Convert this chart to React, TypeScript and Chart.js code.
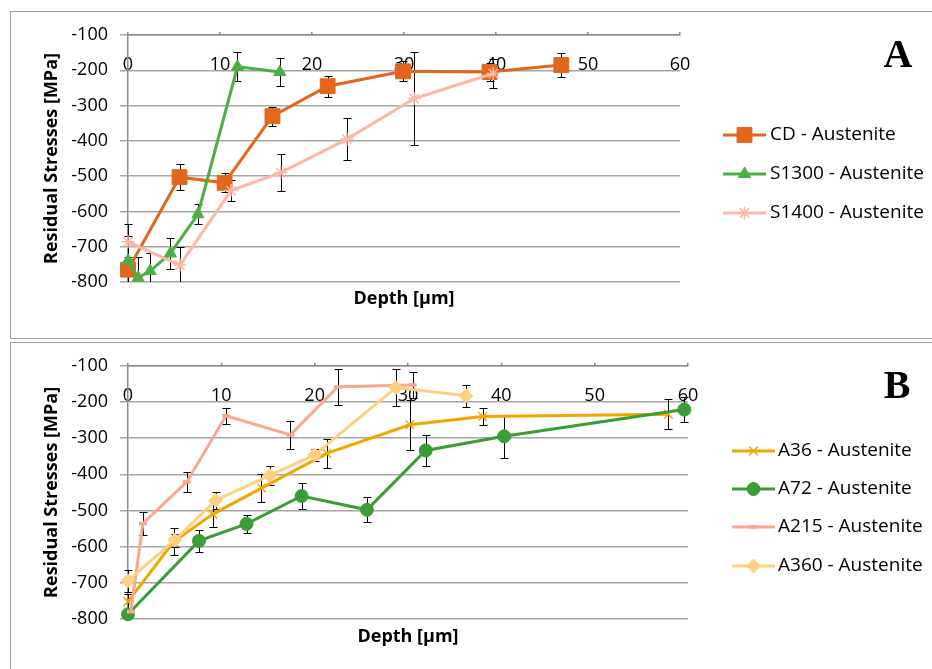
import React, { useEffect, useRef } from "react";
import { Chart, registerables, PointElement } from "chart.js";

Chart.register(...registerables);

const SANS = "'Open Sans', 'Liberation Sans', sans-serif";
const SERIF = "'Liberation Serif', 'DejaVu Serif', serif";

// ---- axis ticks ----
const depthTicks = [0, 10, 20, 30, 40, 50, 60];
const stressTicks = [-800, -700, -600, -500, -400, -300, -200, -100];

// ---- Panel A ----
const cdDepth = [0, 5.6, 10.5, 15.7, 21.7, 29.9, 39.3, 47.1];
const cdStress = [-765, -503, -519, -330, -245, -203, -205, -185];
const cdError = [35, 37, 27, 27, 30, 28, 25, 34];

const s1300Depth = [0, 1.1, 2.4, 4.6, 7.6, 11.9, 16.5];
const s1300Stress = [-740, -788, -769, -719, -608, -190, -205];
const s1300Error = [70, 58, 50, 45, 28, 41, 40];

const s1400Depth = [0, 5.65, 11.2, 16.6, 23.8, 31.1, 39.7];
const s1400Stress = [-686, -752, -541, -490, -395, -280, -209];
const s1400Error = [50, 52, 30, 52, 59, 133, 42];

// ---- Panel B ----
const a36Depth = [0, 4.9, 9.1, 14.3, 21.3, 30.2, 38.0, 57.9];
const a36Stress = [-752, -586, -510, -438, -342, -263, -240, -234];
const a36Error = [20, 38, 35, 38, 41, 69, 23, 42];

const a72Depth = [0, 7.6, 12.7, 18.6, 25.6, 31.9, 40.3, 59.6];
const a72Stress = [-787, -584, -537, -460, -498, -334, -295, -221];
const a72Error = [0, 30, 24, 37, 35, 42, 59, 35];

const a215Depth = [0.3, 1.6, 6.3, 10.5, 17.4, 22.5, 30.5];
const a215Stress = [-780, -536, -421, -238, -291, -158, -153];
const a215Error = [0, 33, 28, 22, 38, 50, 35];

const a360Depth = [0, 5.0, 9.4, 15.2, 20.0, 28.7, 36.2];
const a360Stress = [-694, -582, -472, -403, -346, -160, -183];
const a360Error = [30, 18, 24, 27, 16, 51, 31];

type Series = {
  label: string;
  depth: number[];
  stress: number[];
  error: number[];
  color: string;
  style: string;
  radius: number;
  pointWidth: number;
};

const seriesA: Series[] = [
  { label: "CD - Austenite", depth: cdDepth, stress: cdStress, error: cdError, color: "#E2661C", style: "rect", radius: 10.5, pointWidth: 1 },
  { label: "S1300 - Austenite", depth: s1300Depth, stress: s1300Stress, error: s1300Error, color: "#4CAF45", style: "triangle", radius: 7, pointWidth: 1 },
  { label: "S1400 - Austenite", depth: s1400Depth, stress: s1400Stress, error: s1400Error, color: "#FBB7A8", style: "star", radius: 6.5, pointWidth: 1.5 },
];

const seriesB: Series[] = [
  { label: "A36 - Austenite", depth: a36Depth, stress: a36Stress, error: a36Error, color: "#F2A600", style: "crossRot", radius: 6, pointWidth: 1.5 },
  { label: "A72 - Austenite", depth: a72Depth, stress: a72Stress, error: a72Error, color: "#3A9D35", style: "circle", radius: 6.5, pointWidth: 1 },
  { label: "A215 - Austenite", depth: a215Depth, stress: a215Stress, error: a215Error, color: "#F9A88E", style: "line", radius: 4, pointWidth: 3.5 },
  { label: "A360 - Austenite", depth: a360Depth, stress: a360Stress, error: a360Error, color: "#FFD080", style: "rectRot", radius: 7, pointWidth: 1 },
];

type PanelCfg = {
  letter: string;
  top: number;
  canvasH: number;
  area: { left: number; right: number; top: number; bottom: number };
  xTitlePad: number;
  legend: { x1: number; x2: number; textX: number; ys: number[] };
  letterPos: { x: number; y: number };
  series: Series[];
};

const panelA: PanelCfg = {
  letter: "A",
  top: 11,
  canvasH: 326,
  area: { left: 117, right: 669, top: 23, bottom: 270 },
  xTitlePad: 28.2,
  legend: { x1: 712, x2: 755, textX: 759, ys: [123, 162, 201] },
  letterPos: { x: 887, y: 45 },
  series: seriesA,
};

const panelB: PanelCfg = {
  letter: "B",
  top: 342,
  canvasH: 326,
  area: { left: 117, right: 677, top: 22, bottom: 276 },
  xTitlePad: 21.2,
  legend: { x1: 721, x2: 764, textX: 767, ys: [108, 146, 184, 223] },
  letterPos: { x: 886, y: 45 },
  series: seriesB,
};

const CANVAS_W = 921;

const errorBarPlugin = {
  id: "errorBars",
  beforeDatasetsDraw(chart: any) {
    const { ctx, chartArea: a, scales } = chart;
    const xs = scales.x;
    const ys = scales.y;
    ctx.save();
    ctx.beginPath();
    ctx.rect(a.left - 20, a.top, a.right - a.left + 40, a.bottom - a.top);
    ctx.clip();
    ctx.strokeStyle = "#000";
    ctx.lineWidth = 1;
    chart.data.datasets.forEach((ds: any) => {
      const errs: number[] = ds.errors;
      if (!errs) return;
      ds.data.forEach((p: any, j: number) => {
        const e = errs[j];
        if (!e) return;
        const px = Math.round(xs.getPixelForValue(p.x)) + 0.5;
        const yTop = Math.round(ys.getPixelForValue(p.y + e)) + 0.5;
        const yBot = Math.round(ys.getPixelForValue(p.y - e)) + 0.5;
        ctx.beginPath();
        ctx.moveTo(px, yTop);
        ctx.lineTo(px, yBot);
        ctx.moveTo(px - 4, yTop);
        ctx.lineTo(px + 4, yTop);
        ctx.moveTo(px - 4, yBot);
        ctx.lineTo(px + 4, yBot);
        ctx.stroke();
      });
    });
    ctx.restore();
  },
};

function makeOverlay(cfg: PanelCfg) {
  return {
    id: "overlay",
    afterDraw(chart: any) {
      const ctx = chart.ctx;
      const L = cfg.legend;
      ctx.save();
      cfg.series.forEach((s, i) => {
        const y = L.ys[i];
        ctx.strokeStyle = s.color;
        ctx.lineWidth = 3;
        ctx.lineCap = "butt";
        ctx.beginPath();
        ctx.moveTo(L.x1, y);
        ctx.lineTo(L.x2, y);
        ctx.stroke();
        const pt: any = new (PointElement as any)({
          x: (L.x1 + L.x2) / 2,
          y,
          options: {
            pointStyle: s.style,
            radius: s.radius,
            rotation: 0,
            borderWidth: s.pointWidth,
            borderColor: s.color,
            backgroundColor: s.color,
          },
        });
        pt.draw(ctx, { left: -1e4, right: 1e4, top: -1e4, bottom: 1e4 });
        ctx.fillStyle = "#000";
        ctx.font = `19px ${SANS}`;
        ctx.textAlign = "left";
        ctx.textBaseline = "middle";
        ctx.fillText(s.label, L.textX, y);
      });
      ctx.fillStyle = "#000";
      ctx.font = `bold 40px ${SERIF}`;
      ctx.textAlign = "center";
      ctx.textBaseline = "middle";
      ctx.fillText(cfg.letter, cfg.letterPos.x, cfg.letterPos.y);
      ctx.restore();
    },
  };
}

function Panel({ cfg }: { cfg: PanelCfg }) {
  const ref = useRef<HTMLCanvasElement | null>(null);
  useEffect(() => {
    if (!ref.current) return;
    const a = cfg.area;
    const n = cfg.series.length;
    const chart = new Chart(ref.current, {
      type: "line",
      data: {
        datasets: cfg.series.map((s, i) => ({
          label: s.label,
          data: s.depth.map((d, j) => ({ x: d, y: s.stress[j] })),
          errors: s.error,
          borderColor: s.color,
          backgroundColor: s.color,
          borderWidth: 3,
          pointStyle: s.style,
          pointRadius: s.radius,
          pointBorderWidth: s.pointWidth,
          pointBorderColor: s.color,
          pointBackgroundColor: s.color,
          tension: 0,
          clip: false,
          order: n - i,
        })) as any,
      },
      options: {
        responsive: false,
        animation: false,
        devicePixelRatio: 1,
        events: [],
        layout: { padding: { left: 0, top: 0, right: CANVAS_W - a.right, bottom: 0 } },
        plugins: {
          legend: { display: false },
          tooltip: { enabled: false },
          title: { display: false },
        },
        scales: {
          x: {
            type: "linear",
            position: "top",
            min: 0,
            max: 60,
            afterBuildTicks: (s: any) => {
              s.ticks = depthTicks.map((v) => ({ value: v }));
            },
            afterFit: (s: any) => {
              s.height = a.top;
            },
            ticks: {
              autoSkip: false,
              maxRotation: 0,
              minRotation: 0,
              mirror: true,
              padding: 18.8,
              color: "#000",
              font: { family: SANS, size: 18 },
              callback: (v: any) => String(v),
            },
            grid: { display: true, drawOnChartArea: false, drawTicks: true, tickLength: 3, color: "#8C8C8C", lineWidth: 1.5 },
            border: { display: true, color: "#8C8C8C", width: 1.5 },
          },
          x2: {
            type: "linear",
            axis: "x",
            position: "bottom",
            min: 0,
            max: 60,
            afterFit: (s: any) => {
              s.height = cfg.canvasH - a.bottom;
            },
            ticks: { display: false },
            grid: { display: false, drawTicks: false },
            border: { display: false },
            title: {
              display: true,
              text: "Depth [µm]",
              color: "#000",
              font: { family: SANS, size: 18, weight: "bold" },
              padding: { top: 0, bottom: cfg.xTitlePad },
            },
          },
          y: {
            type: "linear",
            position: "left",
            min: -800,
            max: -100,
            afterBuildTicks: (s: any) => {
              s.ticks = stressTicks.map((v) => ({ value: v }));
            },
            afterFit: (s: any) => {
              s.width = a.left;
            },
            ticks: {
              padding: 12,
              color: "#000",
              font: { family: SANS, size: 18 },
              callback: (v: any) => String(v),
            },
            grid: { color: "#A6A6A6", lineWidth: 1.5, tickLength: 8, drawTicks: true },
            border: { display: true, color: "#8C8C8C", width: 1.5 },
            title: {
              display: true,
              text: "Residual Stresses [MPa]",
              color: "#000",
              font: { family: SANS, size: 18, weight: "bold" },
              padding: { top: 30.2, bottom: 0 },
            },
          },
        } as any,
      },
      plugins: [errorBarPlugin, makeOverlay(cfg)],
    } as any);
    return () => chart.destroy();
  }, [cfg]);

  return (
    <div
      style={{
        position: "absolute",
        left: 10,
        top: cfg.top,
        width: CANVAS_W + 2,
        height: cfg.canvasH + 2,
        border: "1px solid #A0A0A0",
        boxSizing: "border-box",
        background: "#fff",
      }}
    >
      <canvas
        ref={ref}
        width={CANVAS_W}
        height={cfg.canvasH}
        style={{ display: "block", width: CANVAS_W, height: cfg.canvasH }}
      />
    </div>
  );
}

export default function App() {
  return (
    <div
      style={{
        position: "absolute",
        left: 0,
        top: 0,
        width: 932,
        height: 669,
        overflow: "hidden",
        background: "#fff",
      }}
    >
      <Panel cfg={panelA} />
      <Panel cfg={panelB} />
    </div>
  );
}
